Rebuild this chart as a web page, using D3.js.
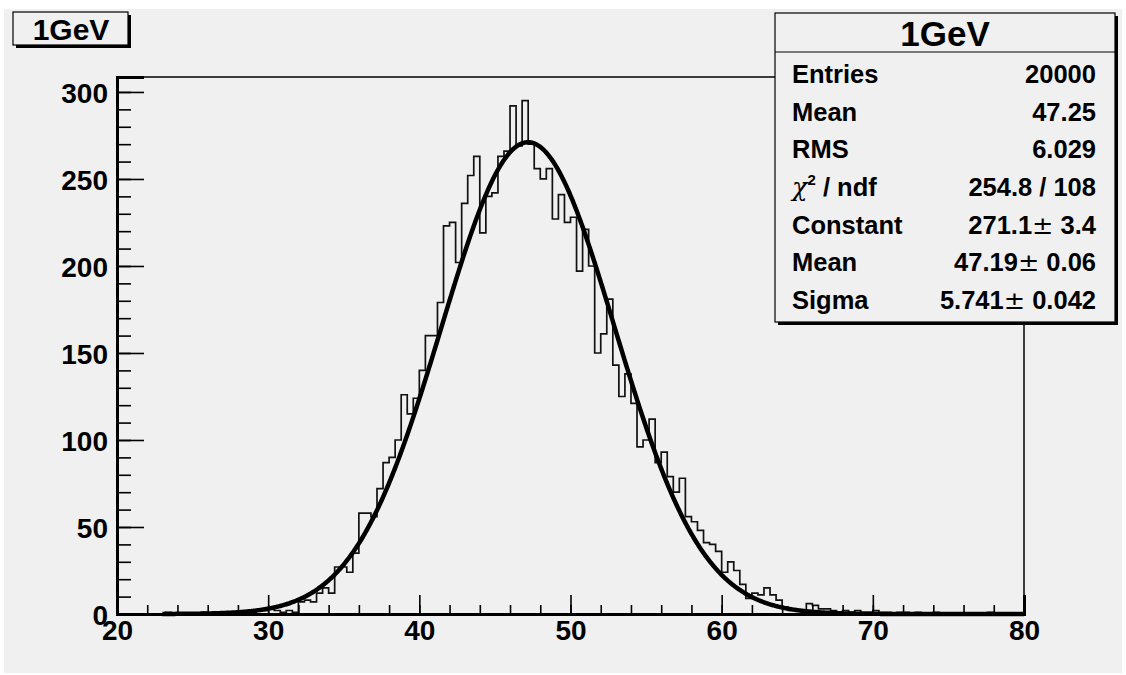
<!DOCTYPE html>
<html><head><meta charset="utf-8">
<script src="https://cdn.jsdelivr.net/npm/d3@7"></script>
<style>
body{margin:0;background:#fff;}
svg{display:block;}
text{font-family:"Liberation Sans",Arial,sans-serif;font-weight:bold;fill:#000;}
</style>
</head><body><svg id="c" width="1126" height="675"></svg>
<script>
// ---- data ----
const binLow = 20, binHigh = 80, binWidth = 0.4;
const counts = [
  0,0,0,0,0,0,0,0,1,0,
  0,0,0,0,1,0,0,1,0,1,
  1,0,1,2,2,3,2,1,2,1,
  7,8,7,12,15,12,27,27,24,35,
  58,58,56,72,87,90,100,126,115,124,
  140,160,160,179,223,225,202,236,252,263,
  219,240,242,263,266,292,269,295,270,256,
  250,256,227,241,225,228,197,221,200,150,
  161,181,143,125,138,121,96,100,112,87,
  93,79,70,78,56,53,48,41,40,36,
  24,30,25,17,9,12,11,15,11,8,
  4,2,2,2,6,5,3,3,2,1,
  2,1,2,1,1,2,1,1,0,1,
  1,0,1,0,0,1,0,0,0,0,
  0,0,0,0,1,0,0,0,0,0
];
const xTicks = [20,30,40,50,60,70,80];
const yTicks = [0,50,100,150,200,250,300];
const yMax = 308.6;
const histTitle = "1GeV";
const statLabels = ["Entries","Mean","RMS","chi2","Constant","Mean","Sigma"];
const statValues = [["20000"],["47.25"],["6.029"],["254.8 / 108"],["271.1","3.4"],["47.19","0.06"],["5.741","0.042"]];
const fitParams = [271.1, 47.19, 5.741];
const fitRange = [23, 80];

// ---- drawing ----
const svg = d3.select("#c");
const W = 1126, H = 675;
svg.append("rect").attr("x",0).attr("y",0).attr("width",W).attr("height",H).attr("fill","#fff");
svg.append("rect").attr("x",4).attr("y",9).attr("width",1118).attr("height",664).attr("fill","#f0f0f0");

const L = 117, R = 1024, T = 77, B = 614;
const x = d3.scaleLinear().domain([binLow, binHigh]).range([L, R]);
const y = d3.scaleLinear().domain([0, yMax]).range([B, T]);

// frame (top & right)
svg.append("path").attr("d", `M${L},${T}H${R}V${B}`).attr("fill","none").attr("stroke","#000").attr("stroke-width",1.5);

// histogram step outline
const pts = [];
counts.forEach((c,i) => {
  const x0 = binLow + i*binWidth, x1 = x0 + binWidth;
  pts.push([x0,c]); pts.push([x1,c]);
});
const line = d3.line().x(d=>x(d[0])).y(d=>y(d[1]));
svg.append("path").attr("d", line(pts)).attr("fill","none").attr("stroke","#111").attr("stroke-width",1.7);

// fit curve
const gaus = v => fitParams[0]*Math.exp(-0.5*Math.pow((v-fitParams[1])/fitParams[2],2));
const fpts = d3.range(fitRange[0], fitRange[1]+0.001, 0.05).map(v=>[v,gaus(v)]);
svg.append("path").attr("d", line(fpts)).attr("fill","none").attr("stroke","#000").attr("stroke-width",4.5).attr("stroke-linejoin","round");

// axes
const xMinor = d3.range(binLow, binHigh+0.001, 2);
const yMinor = d3.range(0, yMax, 10);
const gx = svg.append("g").attr("transform",`translate(0,${B})`);
gx.call(d3.axisBottom(x).tickValues(xMinor).tickSize(-9).tickFormat(""));
const gx2 = svg.append("g").attr("transform",`translate(0,${B})`);
gx2.call(d3.axisBottom(x).tickValues(xTicks).tickSize(-19).tickPadding(8).tickFormat(d3.format("d")));
const gy = svg.append("g").attr("transform",`translate(${L},0)`);
gy.call(d3.axisLeft(y).tickValues(yMinor).tickSize(-14).tickFormat(""));
const gy2 = svg.append("g").attr("transform",`translate(${L},0)`);
gy2.call(d3.axisLeft(y).tickValues(yTicks).tickSize(-27).tickPadding(9).tickFormat(d3.format("d")));
[gx,gx2,gy,gy2].forEach(g=>{
  g.selectAll(".domain").attr("stroke","#000").attr("stroke-width",3);
  g.selectAll(".tick line").attr("stroke","#000").attr("stroke-width",1.6);
  g.selectAll("text").attr("font-size",28).attr("font-family","'Liberation Sans',Arial,sans-serif").attr("font-weight","bold").attr("fill","#000");
});
gx2.selectAll("text").attr("dy","0.72em").attr("y",6);
gy2.selectAll("text").attr("dy","0.36em");

// title box
function shadowBox(x0,y0,w,h){
  svg.append("rect").attr("x",x0+3).attr("y",y0+3).attr("width",w).attr("height",h).attr("fill","#000");
  svg.append("rect").attr("x",x0).attr("y",y0).attr("width",w).attr("height",h).attr("fill","#f0f0f0").attr("stroke","#000").attr("stroke-width",1.2);
}
shadowBox(13,12,115,33);
svg.append("text").attr("x",71).attr("y",40).attr("text-anchor","middle").attr("font-size",30).text(histTitle);

// stats box
shadowBox(775,13,340,309);
svg.append("text").attr("x",945).attr("y",46).attr("text-anchor","middle").attr("font-size",35).text(histTitle);
svg.append("line").attr("x1",775).attr("x2",1115).attr("y1",52).attr("y2",52).attr("stroke","#000").attr("stroke-width",1.2);
const rowY = d3.scaleLinear().domain([0,6]).range([83,309]);
statLabels.forEach((lab,i)=>{
  const t = svg.append("text").attr("x",792).attr("y",rowY(i)).attr("font-size",25.5);
  if(lab==="chi2"){
    t.append("tspan").attr("font-family","'DejaVu Serif',serif").attr("font-weight","normal").attr("font-style","italic").text("χ");
    t.append("tspan").attr("font-size",15).attr("dy",-11).text("2");
    t.append("tspan").attr("dy",11).text(" / ndf");
  } else t.text(lab);
  const v = statValues[i];
  const tv = svg.append("text").attr("x",1096).attr("y",rowY(i)).attr("text-anchor","end").attr("font-size",25.5);
  if(v.length===1) tv.text(v[0]);
  else {
    tv.append("tspan").text(v[0]);
    tv.append("tspan").attr("font-weight","normal").attr("font-family","'DejaVu Sans',sans-serif").text("±");
    tv.append("tspan").text(" "+v[1]);
  }
});
</script>
</body></html>
